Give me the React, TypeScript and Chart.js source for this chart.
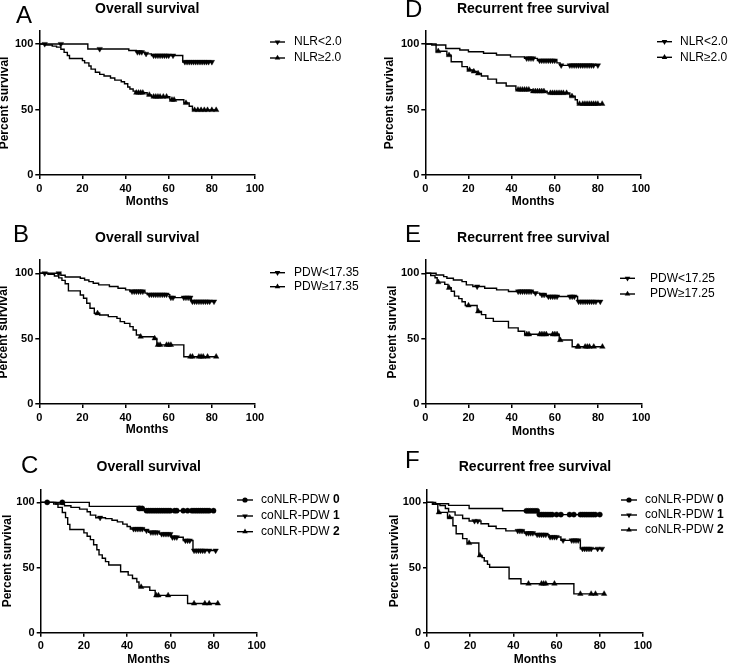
import React, { useEffect, useRef } from "react";
import { Chart, registerables } from "chart.js";

Chart.register(...registerables);

const FONT = '"Liberation Sans", Arial, Helvetica, sans-serif';

const X_TICKS = [0, 20, 40, 60, 80, 100];
const Y_TICKS = [0, 50, 100];
const X_MAX = 100;
const Y_MAX = 110;
const X_TITLE = "Months";
const Y_TITLE = "Percent survival";

const OS_TITLE = "Overall survival";
const RFS_TITLE = "Recurrent free survival";

// Each point: [months, percent survival, censored(1) / event(0)]
type Pt = [number, number, number];

// ---------- Panel A (OS, NLR) ----------
const A_LABELS = ["NLR<2.0", "NLR≥2.0"];
const A1: Pt[] = [[0,100,0],[2.5,100,1],[10,100,1],[22.5,96.2,0],[28,96.2,1],[41.5,95,0],[45,93.8,0],[45.5,93.8,1],[46.5,93.8,1],[47.5,93.8,1],[49,92.5,0],[49.5,92.5,1],[52,91.2,0],[53,91.2,1],[54,91.2,1],[55,91.2,1],[56,91.2,1],[57,91.2,1],[58,91.2,1],[59,91.2,1],[60,91.2,1],[62,91.2,1],[66.5,86.3,0],[67.5,86.3,1],[68.5,86.3,1],[69.5,86.3,1],[70.5,86.3,1],[71.5,86.3,1],[72.5,86.3,1],[73.5,86.3,1],[74.5,86.3,1],[75.5,86.3,1],[76.5,86.3,1],[77.5,86.3,1],[78.5,86.3,1],[80,86.3,1]];
const A2: Pt[] = [[0,100,0],[3,99.2,0],[6,98.4,0],[8,97.6,0],[10,96,0],[11.5,93.6,0],[13,91.2,0],[14,88.9,0],[20,87.3,0],[21,85.6,0],[23,83.2,0],[24,80.8,0],[26,78.4,0],[28,76.8,0],[30,75.6,0],[33,74,0],[35,72.4,0],[38,71.2,0],[39.5,69.6,0],[41,67.2,0],[42,65.6,0],[43.5,64,0],[44.5,62.8,0],[45,62.8,1],[46,62.8,1],[47,62.8,1],[48,62.8,1],[50,61.2,0],[51,61.2,1],[52,59.8,0],[53,59.8,1],[54,59.8,1],[55,59.8,1],[56,59.8,1],[57.5,59.8,1],[59,59.8,1],[60.5,57.4,0],[61.5,57.4,1],[62.5,57.4,1],[67,55,0],[68,55,1],[69.5,52.5,0],[71,49.6,0],[72,49.6,1],[73.5,49.6,1],[75,49.6,1],[76.5,49.6,1],[78,49.6,1],[80,49.6,1],[82,49.6,1]];

// ---------- Panel D (RFS, NLR) ----------
const D_LABELS = ["NLR<2.0", "NLR≥2.0"];
const D1: Pt[] = [[0,100,0],[5,99.2,0],[9.5,96.6,0],[16,95.4,0],[20,94.1,0],[27,92.9,0],[33,91.6,0],[39.5,90.2,0],[46,89,0],[47,89,1],[48,89,1],[49,89,1],[50,89,1],[52,87.4,0],[53,87.4,1],[54,87.4,1],[55,87.4,1],[56,87.4,1],[57,87.4,1],[58,87.4,1],[59,87.4,1],[60,87.4,1],[61,85.6,0],[62.5,83.7,0],[63,83.7,1],[67,83.7,1],[68,83.7,1],[69,83.7,1],[70,83.7,1],[71,83.7,1],[72,83.7,1],[73,83.7,1],[74,83.7,1],[75,83.7,1],[76,83.7,1],[77,83.7,1],[78,83.7,1],[80,83.7,1]];
const D2: Pt[] = [[0,100,0],[3,99.2,0],[5,94.5,0],[6,94.5,1],[10,91.5,0],[11,91.5,1],[12,86.5,0],[17,82.7,0],[19.5,80.2,0],[20.5,80.2,1],[22,79,0],[22.5,79,1],[24,77.5,0],[24.5,77.5,1],[26,75.6,0],[29,73.2,0],[33,70.2,0],[37.5,67.9,0],[42,65.2,0],[43,65.2,1],[44,65.2,1],[45,65.2,1],[46,65.2,1],[47,65.2,1],[48,65.2,1],[49.5,63.9,0],[50,63.9,1],[51,63.9,1],[52,63.9,1],[53,63.9,1],[54,63.9,1],[55,63.9,1],[56.5,62.6,0],[58,62.6,1],[59,62.6,1],[60,62.6,1],[61,62.6,1],[62,62.6,1],[63,62.6,1],[64,62.6,1],[65.5,62.6,1],[67,60.1,0],[68,60.1,1],[69.5,57.5,0],[70.5,54.3,0],[71.5,54.3,1],[73,54.3,1],[74,54.3,1],[75,54.3,1],[76,54.3,1],[77,54.3,1],[78,54.3,1],[79,54.3,1],[80,54.3,1],[82,54.3,1]];

// ---------- Panel B (OS, PDW) ----------
const B_LABELS = ["PDW<17.35", "PDW≥17.35"];
const B1: Pt[] = [[0,100,0],[2.5,100,1],[9,100,1],[10,98.5,0],[12,97.2,0],[19,96.2,0],[21,94.9,0],[23,93.6,0],[25,92.4,0],[27.5,91.1,0],[32.5,89.9,0],[36.5,88.6,0],[40,87.3,0],[42,86.1,0],[43,86.1,1],[44,86.1,1],[45,86.1,1],[46,86.1,1],[47,86.1,1],[48,86.1,1],[49,84.8,0],[50,83.7,0],[51,83.7,1],[52,83.7,1],[53,83.7,1],[54,83.7,1],[55,83.7,1],[56,83.7,1],[57,83.7,1],[58,83.7,1],[59,83.7,1],[60.5,81.4,0],[61,81.4,1],[62,81.4,1],[67,81.4,1],[68,81.4,1],[69,81.4,1],[70,81.4,1],[70.5,78.4,0],[71,78.4,1],[72,78.4,1],[73,78.4,1],[74,78.4,1],[75,78.4,1],[76,78.4,1],[77,78.4,1],[78,78.4,1],[79,78.4,1],[81,78.4,1]];
const B2: Pt[] = [[0,100,0],[4,99.2,0],[7,97.9,0],[9,96.5,0],[10.5,94.6,0],[12,92,0],[13.5,86.5,0],[19,83.4,0],[20.5,80.9,0],[22,77.1,0],[23.5,73.2,0],[25.5,69.4,0],[27,69.4,1],[28,68.1,0],[32,66.8,0],[36,65.5,0],[37.5,63,0],[39.5,61.7,0],[42,59.2,0],[43.5,56.6,0],[45,52.8,0],[46.5,51.5,0],[47,51.5,1],[53,50.2,0],[53.5,50.2,1],[54.5,45.2,0],[55,45.2,1],[56,45.2,1],[59,45.2,1],[60,45.2,1],[61,45.2,1],[67,36.2,0],[70,36.2,1],[71,36.2,1],[74,36.2,1],[75,36.2,1],[76,36.2,1],[78,36.2,1],[82,36.2,1]];

// ---------- Panel E (RFS, PDW) ----------
const E_LABELS = ["PDW<17.25", "PDW≥17.25"];
const E1: Pt[] = [[0,100,0],[5,98.7,0],[8.5,97.4,0],[10,96.2,0],[13,94.9,0],[17,93.6,0],[19,91.1,0],[22,89.9,0],[24,89.9,1],[27.5,88.6,0],[33,87.3,0],[38.5,86.1,0],[43,86.1,1],[44,86.1,1],[45,86.1,1],[46,86.1,1],[47,86.1,1],[48,86.1,1],[49,86.1,1],[50,84.8,0],[51,84.8,1],[53,83.6,0],[54,83.6,1],[55,83.6,1],[56,82.2,0],[57,82.2,1],[58,82.2,1],[59,82.2,1],[60,82.2,1],[61,82.2,1],[67,82.2,1],[68,82.2,1],[69,82.2,1],[70.5,78.3,0],[71,78.3,1],[72,78.3,1],[73,78.3,1],[74,78.3,1],[75,78.3,1],[76,78.3,1],[77,78.3,1],[78,78.3,1],[79,78.3,1],[81,78.3,1]];
const E2: Pt[] = [[0,100,0],[2.5,98.3,0],[4.5,96.6,0],[5.5,93.2,0],[6,93.2,1],[9,91.5,0],[10.5,88.9,0],[11,88.9,1],[12,86.2,0],[13.5,82.5,0],[15.5,80.6,0],[17,78.2,0],[18.5,75.4,0],[20,75.4,1],[24,70.8,0],[24.5,70.8,1],[26,68.4,0],[28,65.5,0],[31.5,63.2,0],[38.5,58.2,0],[43,55.6,0],[46,53.3,0],[47,53.3,1],[48,53.3,1],[53,53.3,1],[54,53.3,1],[55,53.3,1],[56,53.3,1],[59,53.3,1],[60,53.3,1],[61,53.3,1],[62,48.9,0],[62.5,48.9,1],[68,43.8,0],[70.5,43.8,1],[71,43.8,1],[74,43.8,1],[75,43.8,1],[76,43.8,1],[78,43.8,1],[82,43.8,1]];

// ---------- Panel C (OS, coNLR-PDW) ----------
const C_LABELS = ["coNLR-PDW 0", "coNLR-PDW 1", "coNLR-PDW 2"];
const C0: Pt[] = [[0,100,0],[3,100,1],[10,100,1],[22.5,96.9,0],[45,95.3,0],[45.5,95.3,1],[46,95.3,1],[47,95.3,1],[48,93.6,0],[49,93.6,1],[50,93.6,1],[51,93.6,1],[52,93.6,1],[53,93.6,1],[54,93.6,1],[55,93.6,1],[56,93.6,1],[57,93.6,1],[58,93.6,1],[59,93.6,1],[60,93.6,1],[62,93.6,1],[63,93.6,1],[66,93.6,1],[68,93.6,1],[70,93.6,1],[71,93.6,1],[72,93.6,1],[73,93.6,1],[74,93.6,1],[75,93.6,1],[76,93.6,1],[77,93.6,1],[78,93.6,1],[80,93.6,1]];
const C1: Pt[] = [[0,100,0],[7,98.7,0],[11,97.4,0],[14,96.1,0],[18,94.8,0],[21.5,92.8,0],[23,90.2,0],[25.5,88.2,0],[27.5,88.2,1],[30,87.5,0],[33,86.3,0],[35.5,85,0],[38,83.3,0],[40,81.5,0],[41.5,79.6,0],[43,79.6,1],[44,79.6,1],[45,79.6,1],[46,79.6,1],[47,79.6,1],[48,78.3,0],[49,78.3,1],[50,77,0],[51,77,1],[52,77,1],[53,77,1],[54,77,1],[55,75.7,0],[56,75.7,1],[57,75.7,1],[58,75.7,1],[59,75.7,1],[60,75.7,1],[60.5,73.2,0],[61,73.2,1],[62,73.2,1],[63,73.2,1],[66,70.7,0],[67,70.7,1],[68,70.7,1],[69,70.7,1],[70.5,63,0],[71,63,1],[72,63,1],[73,63,1],[74,63,1],[75,63,1],[76,63,1],[78,63,1],[81,63,1]];
const C2: Pt[] = [[0,100,0],[6,98.7,0],[8,96.1,0],[10,92.2,0],[11.5,88.3,0],[12.5,83.1,0],[13.5,79.2,0],[20,76.6,0],[21.5,74,0],[23,71.4,0],[24.5,67.5,0],[26,63.6,0],[27,59.7,0],[28.5,57.1,0],[30,54.5,0],[31.5,51.9,0],[37,46.7,0],[40.5,44.2,0],[42.5,41.6,0],[44.5,38.9,0],[45.5,35.1,0],[46.5,35.1,1],[50.5,32.5,0],[53,28.6,0],[53.5,28.6,1],[54.5,28.6,1],[59,28.6,1],[68,22.4,0],[71,22.4,1],[76,22.4,1],[78,22.4,1],[82,22.4,1]];

// ---------- Panel F (RFS, coNLR-PDW) ----------
const F_LABELS = ["coNLR-PDW 0", "coNLR-PDW 1", "coNLR-PDW 2"];
const F0: Pt[] = [[0,100,0],[4,98.9,0],[10,97.7,0],[19.5,95.3,0],[35,93.5,0],[46,93.5,1],[47,93.5,1],[48,93.5,1],[49,93.5,1],[50,93.5,1],[51,93.5,1],[51.5,90.6,0],[52,90.6,1],[53,90.6,1],[54,90.6,1],[55,90.6,1],[56,90.6,1],[57,90.6,1],[58,90.6,1],[60,90.6,1],[62,90.6,1],[66,90.6,1],[68,90.6,1],[71,90.6,1],[72,90.6,1],[73,90.6,1],[74,90.6,1],[75,90.6,1],[76,90.6,1],[77,90.6,1],[78,90.6,1],[80,90.6,1]];
const F1: Pt[] = [[0,100,0],[3,98.8,0],[6,97.5,0],[8.5,95.3,0],[10,92.7,0],[13,90.2,0],[16.5,87.6,0],[19.5,85.7,0],[22,85.7,1],[23.5,85.7,1],[25,83.6,0],[28.5,81.7,0],[32,79.8,0],[36.5,78.1,0],[42,78.1,1],[43,78.1,1],[44,78.1,1],[45,76.4,0],[46,76.4,1],[47,76.4,1],[48,76.4,1],[49,76.4,1],[50,75.2,0],[51,75.2,1],[52,75.2,1],[53,75.2,1],[54,75.2,1],[55,75.2,1],[56.5,73.4,0],[57,73.4,1],[58,73.4,1],[59,73.4,1],[60,73.4,1],[62,70.8,0],[63,70.8,1],[67,70.8,1],[68,70.8,1],[69,70.8,1],[70,70.8,1],[71,64.4,0],[72,64.4,1],[73,64.4,1],[74,64.4,1],[75,64.4,1],[76,64.4,1],[79,64.4,1],[81,64.4,1]];
const F2: Pt[] = [[0,100,0],[2.5,98.5,0],[5,92.3,0],[5.5,92.3,1],[9.5,88.5,0],[10.5,88.5,1],[12,82,0],[13.5,75.9,0],[16.5,72.2,0],[18.5,68.8,0],[19.5,68.8,1],[24,59.3,0],[24.5,59.3,1],[25.5,57.6,0],[26.5,55,0],[28,52.4,0],[29,50.2,0],[38,41.4,0],[43.5,37.6,0],[47,37.6,1],[53,37.6,1],[54,37.6,1],[55,37.6,1],[59,37.6,1],[68,29.8,0],[71,29.8,1],[76,29.8,1],[78,29.8,1],[82,29.8,1]];

type Marker = "down" | "up" | "circle";

type PanelCfg = {
  letter: string;
  title: string;
  labels: string[];
  series: Pt[][];
  markers: Marker[];
  boldSuffix: boolean;
  left: number;
  top: number;
  width: number;
  height: number;
  plotLeft: number;
  plotRight: number;
  plotTop: number;
  plotBottom: number;
  titleY: number;
  yTitleX: number;
  monthsY: number;
  legLine: [number, number];
  legText: number;
  legRows: number[];
  letterX: number;
  letterBase: number;
};

const TWO = ["down", "up"] as Marker[];
const THREE = ["circle", "down", "up"] as Marker[];

const PANELS: PanelCfg[] = [
  {
    letter: "A", title: OS_TITLE, labels: A_LABELS, series: [A1, A2], markers: TWO, boldSuffix: false,
    left: 0, top: 0, width: 372, height: 218,
    plotLeft: 39.3, plotRight: 255, plotTop: 30.9, plotBottom: 175,
    titleY: 9, yTitleX: 5, monthsY: 202,
    legLine: [270, 285], legText: 294, legRows: [42, 58], letterX: 16, letterBase: 23.3,
  },
  {
    letter: "D", title: RFS_TITLE, labels: D_LABELS, series: [D1, D2], markers: TWO, boldSuffix: false,
    left: 372, top: 0, width: 373, height: 218,
    plotLeft: 53.3, plotRight: 269, plotTop: 30.9, plotBottom: 175,
    titleY: 9, yTitleX: 18, monthsY: 202,
    legLine: [285, 300], legText: 308, legRows: [41.7, 57.3], letterX: 33, letterBase: 16.7,
  },
  {
    letter: "B", title: OS_TITLE, labels: B_LABELS, series: [B1, B2], markers: TWO, boldSuffix: false,
    left: 0, top: 218, width: 372, height: 222,
    plotLeft: 39.3, plotRight: 255, plotTop: 42.2, plotBottom: 186,
    titleY: 20, yTitleX: 4, monthsY: 212,
    legLine: [270, 285], legText: 294, legRows: [54.7, 68.7], letterX: 13, letterBase: 23.7,
  },
  {
    letter: "E", title: RFS_TITLE, labels: E_LABELS, series: [E1, E2], markers: TWO, boldSuffix: false,
    left: 372, top: 218, width: 373, height: 222,
    plotLeft: 53.3, plotRight: 269.3, plotTop: 42.2, plotBottom: 186,
    titleY: 20, yTitleX: 21, monthsY: 214,
    legLine: [248, 263], legText: 278, legRows: [60.3, 76], letterX: 33, letterBase: 23.7,
  },
  {
    letter: "C", title: OS_TITLE, labels: C_LABELS, series: [C0, C1, C2], markers: THREE, boldSuffix: true,
    left: 0, top: 440, width: 372, height: 225,
    plotLeft: 40.7, plotRight: 256.7, plotTop: 49.3, plotBottom: 192.7,
    titleY: 27, yTitleX: 7.5, monthsY: 220,
    legLine: [237, 253], legText: 261, legRows: [60, 76, 91.7], letterX: 21, letterBase: 33,
  },
  {
    letter: "F", title: RFS_TITLE, labels: F_LABELS, series: [F0, F1, F2], markers: THREE, boldSuffix: true,
    left: 372, top: 440, width: 373, height: 225,
    plotLeft: 55, plotRight: 271, plotTop: 49.3, plotBottom: 192.7,
    titleY: 27, yTitleX: 22.5, monthsY: 220,
    legLine: [249, 265], legText: 273, legRows: [60, 75, 90], letterX: 33, letterBase: 28.3,
  },
];

function drawMarker(ctx: CanvasRenderingContext2D, m: Marker, x: number, y: number) {
  ctx.beginPath();
  if (m === "circle") {
    ctx.arc(x, y, 2.6, 0, Math.PI * 2);
  } else {
    const r = 3.2;
    let rad = m === "down" ? Math.PI : 0;
    ctx.moveTo(x + Math.sin(rad) * r, y - Math.cos(rad) * r);
    rad += (2 * Math.PI) / 3;
    ctx.lineTo(x + Math.sin(rad) * r, y - Math.cos(rad) * r);
    rad += (2 * Math.PI) / 3;
    ctx.lineTo(x + Math.sin(rad) * r, y - Math.cos(rad) * r);
    ctx.closePath();
  }
  ctx.fill();
}

function Panel({ cfg }: { cfg: PanelCfg }) {
  const ref = useRef<HTMLCanvasElement>(null);
  useEffect(() => {
    const c = cfg;
    const titleLH = 14 * 1.2;
    const tPadTop = c.titleY - titleLH / 2;
    const tPadBottom = c.plotTop - titleLH - tPadTop;

    const decor = {
      id: "decor",
      afterDraw(chart: any) {
        const ctx: CanvasRenderingContext2D = chart.ctx;
        ctx.save();
        ctx.fillStyle = "#000";
        ctx.strokeStyle = "#000";
        ctx.font = `24px ${FONT}`;
        ctx.textAlign = "left";
        ctx.textBaseline = "alphabetic";
        ctx.fillText(c.letter, c.letterX, c.letterBase);
        chart.data.datasets.forEach((ds: any, i: number) => {
          const y = c.legRows[i];
          ctx.lineWidth = 1.4;
          ctx.beginPath();
          ctx.moveTo(c.legLine[0], y);
          ctx.lineTo(c.legLine[1], y);
          ctx.stroke();
          drawMarker(ctx, c.markers[i], (c.legLine[0] + c.legLine[1]) / 2, y);
          ctx.textBaseline = "middle";
          const label: string = ds.label;
          if (c.boldSuffix) {
            const cut = label.lastIndexOf(" ") + 1;
            const head = label.slice(0, cut);
            const tail = label.slice(cut);
            ctx.font = `12px ${FONT}`;
            ctx.fillText(head, c.legText, y);
            const w = ctx.measureText(head).width;
            ctx.font = `bold 12px ${FONT}`;
            ctx.fillText(tail, c.legText + w, y);
          } else {
            ctx.font = `12px ${FONT}`;
            ctx.fillText(label, c.legText, y);
          }
        });
        ctx.restore();
      },
    };

    const axisCommon = {
      type: "linear" as const,
      bounds: "data" as const,
      grid: { display: true, drawOnChartArea: false, drawTicks: true, tickLength: 4, color: "#000", lineWidth: 1.5 },
      border: { display: true, color: "#000", width: 1.5 },
    };

    const chart = new Chart(ref.current as HTMLCanvasElement, {
      type: "line",
      data: {
        datasets: c.series.map((pts, si) => {
          const m = c.markers[si];
          return {
            label: c.labels[si],
            data: pts.map((p) => ({ x: p[0], y: p[1] })),
            stepped: "before" as const,
            borderColor: "#000",
            backgroundColor: "#000",
            borderWidth: 1.4,
            fill: false,
            tension: 0,
            pointStyle: m === "circle" ? "circle" : "triangle",
            rotation: m === "down" ? 180 : 0,
            pointRadius: (ctx: any) => (pts[ctx.dataIndex] && pts[ctx.dataIndex][2] ? (m === "circle" ? 2.6 : 3.2) : 0),
            pointBorderWidth: 0.4,
            pointBorderColor: "#000",
            pointBackgroundColor: "#000",
            pointHoverRadius: 0,
          };
        }),
      },
      options: {
        responsive: false,
        animation: false,
        events: [],
        layout: { padding: { left: 0, top: 0, right: c.width - c.plotRight, bottom: 0 } },
        plugins: {
          legend: { display: false },
          tooltip: { enabled: false },
          title: {
            display: true,
            text: c.title,
            fullSize: false,
            align: "center",
            color: "#000",
            font: { family: FONT, size: 14, weight: "bold", lineHeight: 1.2 },
            padding: { top: tPadTop, bottom: tPadBottom },
          },
        },
        scales: {
          x: {
            ...axisCommon,
            position: "bottom",
            min: 0,
            max: X_MAX,
            afterBuildTicks: (sc: any) => {
              sc.ticks = X_TICKS.map((v) => ({ value: v }));
            },
            afterFit: (sc: any) => {
              sc.height = c.height - c.plotBottom;
              sc.paddingLeft = 0;
              sc.paddingRight = 0;
            },
            ticks: { color: "#000", font: { family: FONT, size: 11, weight: "bold" }, padding: 3, maxRotation: 0, autoSkip: false },
            title: {
              display: true,
              text: X_TITLE,
              color: "#000",
              font: { family: FONT, size: 12, weight: "bold", lineHeight: 1 },
              padding: { top: 0, bottom: c.height - 6 - c.monthsY },
            },
          },
          y: {
            ...axisCommon,
            position: "left",
            min: 0,
            max: Y_MAX,
            afterBuildTicks: (sc: any) => {
              sc.ticks = Y_TICKS.map((v) => ({ value: v }));
            },
            afterFit: (sc: any) => {
              sc.width = c.plotLeft;
              sc.paddingTop = 0;
              sc.paddingBottom = 0;
            },
            ticks: { color: "#000", font: { family: FONT, size: 11, weight: "bold" }, padding: 2, autoSkip: false },
            title: {
              display: true,
              text: Y_TITLE,
              color: "#000",
              font: { family: FONT, size: 12, weight: "bold", lineHeight: 1 },
              padding: { top: c.yTitleX - 6, bottom: 0 },
            },
          },
        },
      } as any,
      plugins: [decor],
    });
    return () => chart.destroy();
  }, [cfg]);

  return (
    <div style={{ position: "absolute", left: cfg.left, top: cfg.top, width: cfg.width, height: cfg.height }}>
      <canvas ref={ref} width={cfg.width} height={cfg.height} style={{ width: cfg.width, height: cfg.height, display: "block" }} />
    </div>
  );
}

export default function App() {
  return (
    <div style={{ position: "absolute", left: 0, top: 0, width: 745, height: 665, background: "#fff", overflow: "hidden" }}>
      {PANELS.map((p) => (
        <Panel key={p.letter} cfg={p} />
      ))}
    </div>
  );
}
